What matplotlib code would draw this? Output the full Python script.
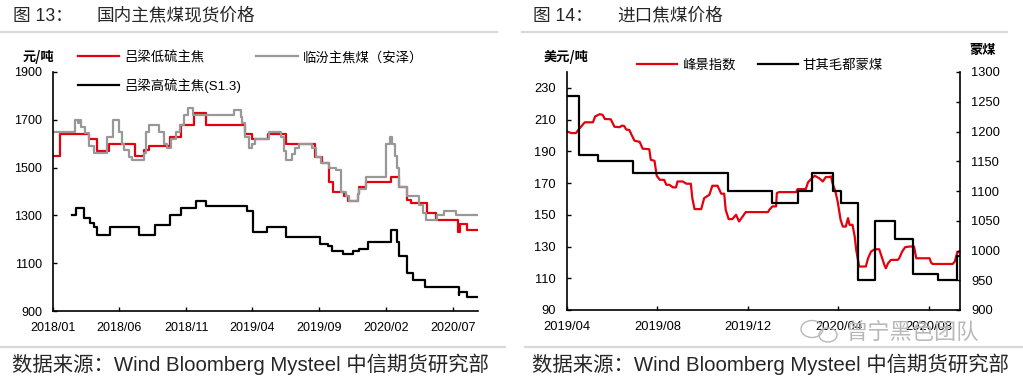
import matplotlib
matplotlib.use('Agg')
import matplotlib.pyplot as plt
import matplotlib.dates as mdates
import pandas as pd
from matplotlib.lines import Line2D
from matplotlib.patches import Ellipse

plt.rcParams['font.family'] = ['Liberation Sans', 'Noto Sans CJK SC', 'DejaVu Sans']

# ---------------- Data: left chart (国内主焦煤现货价格) ----------------
low_dates = ['2018-01-01', '2018-01-16', '2018-03-25', '2018-04-12', '2018-05-08', '2018-07-08',
             '2018-07-27', '2018-08-08', '2018-09-25', '2018-10-20', '2018-11-19', '2018-12-17',
             '2019-03-16', '2019-04-01', '2019-05-07', '2019-06-16', '2019-08-21', '2019-09-08',
             '2019-09-23', '2019-10-01', '2019-10-27', '2019-11-05', '2019-11-27', '2019-12-01',
             '2019-12-16', '2020-02-12', '2020-03-01', '2020-03-19', '2020-03-28', '2020-05-04',
             '2020-05-23', '2020-07-14', '2020-07-17', '2020-08-04', '2020-08-27']
low_vals = [1550, 1640, 1620, 1570, 1600, 1550,
            1575, 1590, 1630, 1680, 1730, 1680,
            1640, 1620, 1640, 1600, 1545, 1520,
            1440, 1400, 1380, 1360, 1390, 1420,
            1440, 1460, 1420, 1365, 1350, 1310,
            1280, 1230, 1265, 1240, 1240]

linfen_dates = ['2018-01-01', '2018-02-20', '2018-02-26', '2018-03-01', '2018-03-07', '2018-03-16',
                '2018-03-24', '2018-04-04', '2018-05-04', '2018-05-19', '2018-06-01', '2018-06-07',
                '2018-06-13', '2018-06-24', '2018-07-01', '2018-07-27', '2018-08-01', '2018-08-08',
                '2018-09-01', '2018-09-11', '2018-09-19', '2018-09-27', '2018-10-08', '2018-10-18',
                '2018-10-26', '2018-11-04', '2018-11-16', '2019-02-19', '2019-03-05', '2019-03-08',
                '2019-03-16', '2019-03-24', '2019-04-01', '2019-04-08', '2019-05-08', '2019-06-05',
                '2019-06-12', '2019-06-16', '2019-07-01', '2019-07-08', '2019-07-16', '2019-08-16',
                '2019-08-24', '2019-09-05', '2019-09-23', '2019-10-09', '2019-10-20', '2019-11-01',
                '2019-11-08', '2019-11-27', '2019-12-01', '2019-12-16', '2020-01-30', '2020-02-09',
                '2020-02-14', '2020-02-21', '2020-02-26', '2020-03-01', '2020-03-20', '2020-04-16',
                '2020-04-25', '2020-05-01', '2020-05-27', '2020-06-12', '2020-07-08', '2020-08-27']
linfen_vals = [1650, 1700, 1685, 1700, 1670, 1645,
               1590, 1560, 1630, 1700, 1650, 1600,
               1575, 1545, 1530, 1560, 1650, 1680,
               1650, 1600, 1580, 1620, 1650, 1680,
               1720, 1750, 1720, 1740, 1710, 1685,
               1630, 1580, 1600, 1620, 1650, 1630,
               1570, 1530, 1555, 1580, 1600, 1580,
               1545, 1520, 1500, 1490, 1400, 1380,
               1360, 1390, 1410, 1460, 1600, 1630,
               1600, 1550, 1500, 1420, 1380, 1345,
               1310, 1280, 1300, 1320, 1300, 1300]

high_dates = ['2018-02-14', '2018-02-22', '2018-03-12', '2018-03-27', '2018-04-05', '2018-04-12',
              '2018-05-10', '2018-07-17', '2018-08-21', '2018-09-25', '2018-10-21', '2018-11-23',
              '2018-12-16', '2019-03-20', '2019-04-02', '2019-05-05', '2019-06-17', '2019-09-02',
              '2019-09-20', '2019-09-30', '2019-10-24', '2019-11-17', '2019-12-01', '2019-12-20',
              '2020-02-12', '2020-02-24', '2020-03-01', '2020-03-20', '2020-04-01', '2020-04-30',
              '2020-07-15', '2020-07-16', '2020-08-04', '2020-08-27']
high_vals = [1300, 1330, 1290, 1270, 1250, 1220,
             1250, 1220, 1260, 1300, 1330, 1360,
             1340, 1320, 1230, 1250, 1210, 1180,
             1170, 1150, 1140, 1150, 1160, 1190,
             1240, 1190, 1130, 1060, 1030, 1000,
             965, 980, 960, 960]

left_ticks = ['2018-01-01', '2018-06-01', '2018-11-01', '2019-04-01', '2019-09-01', '2020-02-01', '2020-07-01']
left_yticks = [900, 1100, 1300, 1500, 1700, 1900]

# ---------------- Data: right chart (进口焦煤价格) ----------------
fj_dates = ['2019-04-01', '2019-04-07', '2019-04-13', '2019-04-18', '2019-04-25', '2019-05-06', '2019-05-09',
            '2019-05-15', '2019-05-19', '2019-05-22', '2019-05-30', '2019-06-04', '2019-06-11', '2019-06-14',
            '2019-06-17', '2019-06-20', '2019-06-24', '2019-06-27', '2019-07-01', '2019-07-08', '2019-07-12',
            '2019-07-21', '2019-07-23', '2019-07-28', '2019-07-31', '2019-08-04', '2019-08-10', '2019-08-13',
            '2019-08-17', '2019-08-22', '2019-08-26', '2019-08-28', '2019-09-04', '2019-09-09', '2019-09-15',
            '2019-09-17', '2019-09-20', '2019-09-29', '2019-10-03', '2019-10-10', '2019-10-14', '2019-10-21',
            '2019-10-26', '2019-10-30', '2019-11-01', '2019-11-05', '2019-11-10', '2019-11-15', '2019-11-19',
            '2019-11-24', '2019-11-28', '2019-12-28', '2019-12-30', '2020-01-03', '2020-01-08', '2020-01-09',
            '2020-01-12', '2020-02-04', '2020-02-06', '2020-02-17', '2020-02-20', '2020-02-24', '2020-02-29',
            '2020-03-06', '2020-03-11', '2020-03-15', '2020-03-20', '2020-03-22', '2020-03-24', '2020-03-28',
            '2020-03-31', '2020-04-04', '2020-04-07', '2020-04-11', '2020-04-14', '2020-04-16', '2020-04-20',
            '2020-04-23', '2020-04-25', '2020-04-29', '2020-05-08', '2020-05-11', '2020-05-15', '2020-05-20',
            '2020-05-26', '2020-05-29', '2020-06-02', '2020-06-04', '2020-06-07', '2020-06-11', '2020-06-20',
            '2020-06-22', '2020-06-26', '2020-06-30', '2020-07-06', '2020-07-12', '2020-07-15', '2020-08-02',
            '2020-08-04', '2020-08-06', '2020-09-02', '2020-09-05', '2020-09-08', '2020-09-11']
fj_vals = [202.5, 201.5, 201.5, 204.5, 208.3, 208.3, 212.0,
           213.4, 213.0, 210.4, 210.2, 205.5, 205.2, 206.2,
           206.0, 203.7, 203.5, 200.5, 196.7, 196.0, 191.7,
           191.3, 184.7, 184.0, 174.6, 172.1, 172.0, 168.9,
           168.9, 167.3, 167.3, 171.0, 171.0, 169.6, 169.6,
           160.5, 153.6, 153.6, 160.5, 162.6, 168.3, 168.3,
           163.3, 163.3, 153.2, 147.3, 147.3, 150.0, 145.8,
           149.0, 151.7, 151.7, 153.2, 155.3, 155.3, 163.7,
           164.3, 164.3, 166.2, 166.2, 170.4, 172.5, 174.6,
           173.1, 171.0, 173.8, 173.8, 174.2, 170.0, 164.7,
           158.4, 146.8, 142.6, 142.6, 147.9, 143.7, 143.7,
           136.3, 127.9, 117.4, 117.4, 122.6, 126.8, 128.3,
           128.3, 124.1, 118.4, 116.3, 119.5, 121.6, 121.6,
           122.6, 126.8, 129.6, 130.0, 130.0, 122.6, 122.6,
           119.9, 119.0, 119.0, 120.5, 125.8, 127.0]

mg_dates = ['2019-04-01', '2019-04-17', '2019-05-13', '2019-06-29', '2019-11-04', '2020-01-02',
            '2020-02-06', '2020-02-26', '2020-03-25', '2020-04-04', '2020-04-27', '2020-05-21',
            '2020-06-16', '2020-07-10', '2020-08-14', '2020-09-08', '2020-09-11']
mg_vals = [1260, 1160, 1150, 1130, 1100, 1080,
           1100, 1130, 1100, 1080, 950, 1050,
           1020, 960, 950, 990, 990]

right_ticks = ['2019-04-01', '2019-08-01', '2019-12-01', '2020-04-01', '2020-08-01']
right_yticks_l = [90, 110, 130, 150, 170, 190, 210, 230]
right_yticks_r = [900, 950, 1000, 1050, 1100, 1150, 1200, 1250, 1300]

RED = '#e3000f'
GRAY = '#989898'
BLACK = '#000000'
CJK = ['Noto Sans CJK SC', 'DejaVu Sans']

W, H = 1023, 384
fig = plt.figure(figsize=(W / 100, H / 100), dpi=100)


def fx(px):
    return px / W


def fy(py):
    return 1 - py / H


def style_axis(ax, size):
    ax.tick_params(direction='in', length=3, width=1.0, pad=8, labelsize=size, colors='black')
    for s in ax.spines.values():
        s.set_linewidth(1.2)
        s.set_color('black')


# ---------------- Left chart ----------------
ax1 = fig.add_axes([fx(53), fy(311), fx(478) - fx(53), fy(72) - fy(311)])
l1, = ax1.plot(pd.to_datetime(low_dates), low_vals, drawstyle='steps-post', color=RED, lw=1.6, label='吕梁低硫主焦')
l2, = ax1.plot(pd.to_datetime(linfen_dates), linfen_vals, drawstyle='steps-post', color=GRAY, lw=1.6, label='临汾主焦煤（安泽）')
l3, = ax1.plot(pd.to_datetime(high_dates), high_vals, drawstyle='steps-post', color=BLACK, lw=1.6, label='吕梁高硫主焦(S1.3)')
ax1.set_xlim(pd.Timestamp('2018-01-01'), pd.Timestamp('2020-08-28'))
ax1.set_ylim(900, 1900)
ax1.set_yticks(left_yticks)
ax1.set_xticks(pd.to_datetime(left_ticks))
ax1.xaxis.set_major_formatter(mdates.DateFormatter('%Y/%m'))
ax1.spines['top'].set_visible(False)
ax1.spines['right'].set_visible(False)
style_axis(ax1, 9)

fig.legend([l1, l3, l2], [l1.get_label(), l3.get_label(), l2.get_label()], ncol=2,
           loc='upper left', bbox_to_anchor=(fx(78), fy(51)), frameon=False,
           borderpad=0, borderaxespad=0, handlelength=3.1, handletextpad=0.4,
           columnspacing=1.1, labelspacing=1.05, prop={'size': 9.6})

fig.text(fx(38), fy(57), '元/吨', ha='center', va='center', fontsize=9.5, fontweight='bold', family=CJK)

# ---------------- Right chart ----------------
ax2 = fig.add_axes([fx(567), fy(310), fx(960) - fx(567), fy(72) - fy(310)])
ax2.plot(pd.to_datetime(fj_dates), fj_vals, color=RED, lw=1.6, label='峰景指数')
ax2.set_ylim(90, 240)
ax2.set_yticks(right_yticks_l)
ax2.set_xlim(pd.Timestamp('2019-04-01'), pd.Timestamp('2020-09-12'))
ax2.set_xticks(pd.to_datetime(right_ticks))
ax2.xaxis.set_major_formatter(mdates.DateFormatter('%Y/%m'))
ax2.spines['top'].set_visible(False)
ax2.spines['right'].set_visible(False)
style_axis(ax2, 9.3)

ax2r = ax2.twinx()
ax2r.plot(pd.to_datetime(mg_dates), mg_vals, drawstyle='steps-post', color=BLACK, lw=1.6, label='甘其毛都蒙煤')
ax2r.set_ylim(900, 1300)
ax2r.set_yticks(right_yticks_r)
ax2r.spines['top'].set_visible(False)
ax2r.spines['left'].set_visible(False)
ax2r.spines['bottom'].set_visible(False)
style_axis(ax2r, 9.3)

h_a, lab_a = ax2.get_legend_handles_labels()
h_b, lab_b = ax2r.get_legend_handles_labels()
fig.legend(h_a + h_b, lab_a + lab_b, ncol=2, loc='upper left', bbox_to_anchor=(fx(637), fy(59)),
           frameon=False, borderpad=0, borderaxespad=0, handlelength=3.0, handletextpad=0.35,
           columnspacing=1.7, prop={'size': 9.6})

fig.text(fx(566), fy(57), '美元/吨', ha='center', va='center', fontsize=9.5, fontweight='bold', family=CJK)
fig.text(fx(983), fy(50), '蒙煤', ha='center', va='center', fontsize=9.5, fontweight='bold', family=CJK)

# ---------------- Titles, separators, sources ----------------
TITLE_C = '#262626'
fig.text(fx(13), fy(16), '图 13：', ha='left', va='center', fontsize=12.7, color=TITLE_C)
fig.text(fx(97), fy(16), '国内主焦煤现货价格', ha='left', va='center', fontsize=12.7, color=TITLE_C)
fig.text(fx(533), fy(16), '图 14：', ha='left', va='center', fontsize=12.7, color=TITLE_C)
fig.text(fx(617), fy(16), '进口焦煤价格', ha='left', va='center', fontsize=12.7, color=TITLE_C)

SEP = '#d9d9d9'
fig.add_artist(Line2D([fx(0), fx(497)], [fy(32), fy(32)], color=SEP, lw=1.6))
fig.add_artist(Line2D([fx(522), fx(1007)], [fy(32), fy(32)], color=SEP, lw=1.6))
fig.add_artist(Line2D([fx(0), fx(505)], [fy(347), fy(347)], color=SEP, lw=1.6))
fig.add_artist(Line2D([fx(525), fx(1023)], [fy(347), fy(347)], color=SEP, lw=1.6))

src = '数据来源：Wind Bloomberg Mysteel 中信期货研究部'
fig.text(fx(12), fy(364), src, ha='left', va='center', fontsize=14.7, color=TITLE_C)
fig.text(fx(532), fy(364), src, ha='left', va='center', fontsize=14.7, color=TITLE_C)

# watermark
WM = '#b8b8b8'
fig.add_artist(Ellipse((fx(812), fy(329)), 22 / W, 17 / H, fill=False, ec=WM, lw=1.0))
fig.add_artist(Ellipse((fx(828), fy(335)), 18 / W, 14 / H, fill=False, ec=WM, lw=1.0))
fig.text(fx(845), fy(332), '曾宁黑色团队', ha='left', va='center', fontsize=16, color=WM, family=CJK)

fig.savefig('out.png', dpi=100)
